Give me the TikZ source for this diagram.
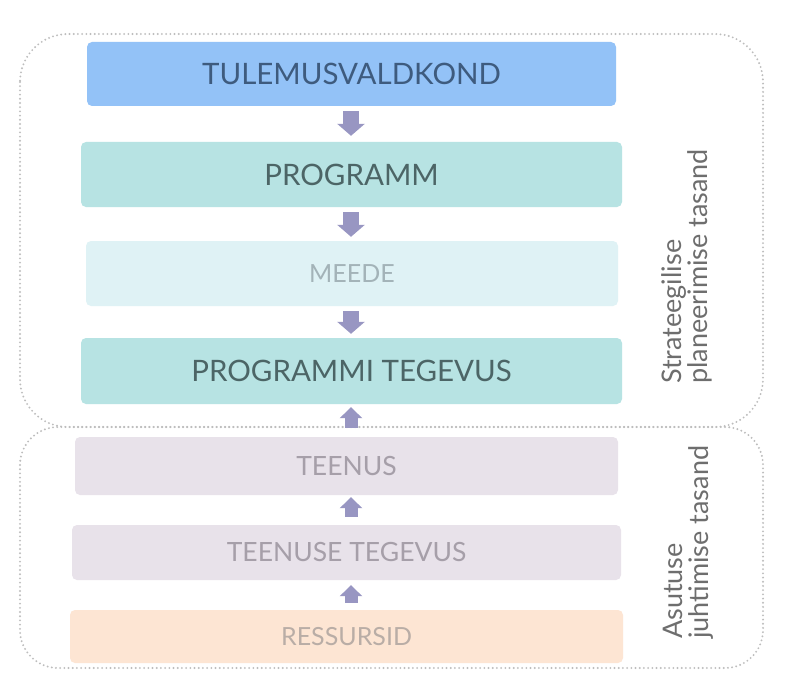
\documentclass[tikz,border=0pt]{standalone}
\usepackage{fontspec}
\setmainfont{Lato}
\usetikzlibrary{arrows.meta}
\definecolor{framec}{HTML}{BDBDBD}
\definecolor{arrowc}{HTML}{9896C2}
\definecolor{blueF}{HTML}{93C2F7}
\definecolor{blueT}{HTML}{3E5B7E}
\definecolor{tealF}{HTML}{B7E3E3}
\definecolor{tealT}{HTML}{4C6566}
\definecolor{paleF}{HTML}{DFF2F5}
\definecolor{paleT}{HTML}{A3B3B8}
\definecolor{lilacF}{HTML}{E8E2EA}
\definecolor{lilacT}{HTML}{A69FA9}
\definecolor{peachF}{HTML}{FDE5D3}
\definecolor{peachT}{HTML}{B9ADA6}
\definecolor{sideT}{HTML}{6E6E6E}
\tikzset{
  box/.style={rounded corners=5pt, inner sep=0pt, anchor=center},
  frame/.style={draw=framec, line width=2.1pt, line cap=round, dash pattern=on 0pt off 4.2pt},
  downarr/.style={draw=arrowc, line width=16pt, -{Triangle[width=27pt,length=12pt]}},
  uparr/.style={draw=arrowc, line width=13pt, -{Triangle[width=22pt,length=11pt]}},
  side/.style={rotate=90, anchor=west, align=left, inner sep=0pt, text=sideT,
    font=\fontsize{27}{26}\selectfont},
}
\begin{document}
\begin{tikzpicture}[x=1pt,y=-1pt]
\useasboundingbox (0,0) rectangle (787,690);
\fill[white] (0,0) rectangle (787,690);
% frames
\draw[frame, rounded corners=48pt] (20,34) rectangle (763,427);
\draw[frame, rounded corners=38pt] (20,427) rectangle (763,668);
% boxes
\node[box, fill=blueF, text=blueT, minimum width=529pt, minimum height=64pt, font=\fontsize{29.5}{32}\selectfont] (b1) at (351.5,74) {TULEMUSVALDKOND};
\node[box, fill=tealF, text=tealT, minimum width=541pt, minimum height=65pt, font=\fontsize{29.5}{32}\selectfont] (b2) at (351.5,174.5) {PROGRAMM};
\node[box, fill=paleF, text=paleT, minimum width=532pt, minimum height=65pt, font=\fontsize{25}{28}\selectfont] (b3) at (352,273.5) {MEEDE};
\node[box, fill=tealF, text=tealT, minimum width=541pt, minimum height=66pt, font=\fontsize{29.5}{32}\selectfont] (b4) at (351.5,371) {PROGRAMMI TEGEVUS};
\node[box, fill=lilacF, text=lilacT, minimum width=543pt, minimum height=58pt, font=\fontsize{26.5}{30}\selectfont] (b5) at (346.5,466) {TEENUS};
\node[box, fill=lilacF, text=lilacT, minimum width=549pt, minimum height=55pt, font=\fontsize{26.5}{30}\selectfont] (b6) at (346.5,552.5) {TEENUSE TEGEVUS};
\node[box, fill=peachF, text=peachT, minimum width=553pt, minimum height=53pt, font=\fontsize{25}{28}\selectfont] (b7) at (346.5,636.5) {RESSURSID};
% arrows
\coordinate (ax) at (351,0);
\draw[downarr, shorten <=5pt, shorten >=6pt] (b1.south -| ax) -- (b2.north -| ax);
\draw[downarr, shorten <=5pt, shorten >=4pt] (b2.south -| ax) -- (b3.north -| ax);
\draw[downarr, shorten <=5pt, shorten >=4pt] (b3.south -| ax) -- (b4.north -| ax);
\draw[uparr, shorten <=9pt, shorten >=3pt] (b5.north -| ax) -- (b4.south -| ax);
\draw[uparr, shorten <=8pt, shorten >=2pt] (b6.north -| ax) -- (b5.south -| ax);
\draw[uparr, shorten <=7pt, shorten >=5pt] (b7.north -| ax) -- (b6.south -| ax);
% side labels
\node[side] (s1) at (687,384) {Strateegilise\\planeerimise tasand};
\node[side] (s2) at (688,639) {Asutuse\\juhtimise tasand};
\end{tikzpicture}
\end{document}
